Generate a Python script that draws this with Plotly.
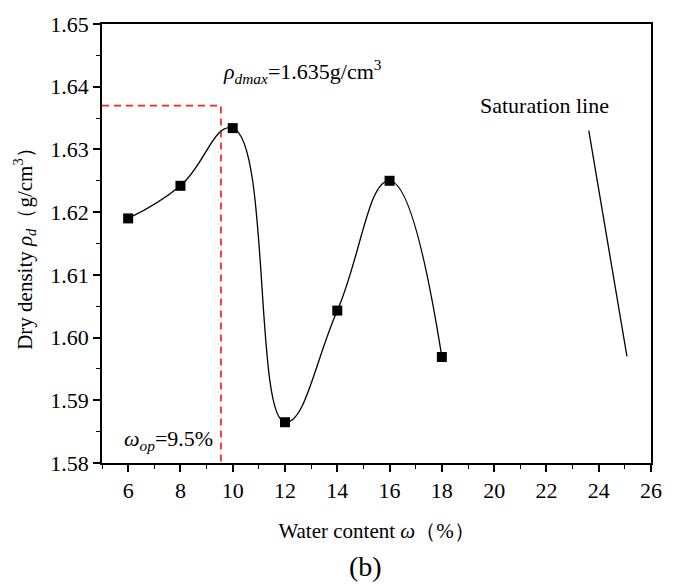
import plotly.graph_objects as go

# Data
water_content = [6, 8, 10, 12, 14, 16, 18]
dry_density = [1.6190, 1.6242, 1.6334, 1.5865, 1.6043, 1.6250, 1.5969]

sat_x = [23.62, 25.08]
sat_y = [1.6330, 1.5970]

peak_x = 9.55
peak_y = 1.637

x_ticks = [6, 8, 10, 12, 14, 16, 18, 20, 22, 24, 26]
y_ticks = [1.58, 1.59, 1.60, 1.61, 1.62, 1.63, 1.64, 1.65]

FONT = "Liberation Serif, Times New Roman, serif"

fig = go.Figure()

# Red dashed reference lines
fig.add_trace(go.Scatter(
    x=[5, peak_x, peak_x], y=[peak_y, peak_y, 1.58],
    mode="lines", line=dict(color="#ff2020", width=1.7, dash="7px,5px"),
    hoverinfo="skip", showlegend=False, cliponaxis=False))

# Fitted curve (smooth)
fig.add_trace(go.Scatter(
    x=water_content, y=dry_density, mode="lines",
    line=dict(color="black", width=1.3, shape="spline", smoothing=1.3),
    showlegend=False))

# Data points
fig.add_trace(go.Scatter(
    x=water_content, y=dry_density, mode="markers",
    marker=dict(symbol="square", size=10, color="black"),
    showlegend=False))

# Saturation line
fig.add_trace(go.Scatter(
    x=sat_x, y=sat_y, mode="lines",
    line=dict(color="black", width=1.3), showlegend=False))

axis_common = dict(
    showline=True, linecolor="black", linewidth=1.5, mirror=True,
    ticks="outside", ticklen=7, tickwidth=1.5, tickcolor="black",
    showgrid=False, zeroline=False,
    tickfont=dict(family=FONT, size=22, color="black"),
)

fig.update_xaxes(
    range=[5, 26], tickvals=x_ticks,
    minor=dict(dtick=1, tick0=5, ticks="outside", ticklen=4, tickwidth=1.2, tickcolor="black"),
    title=dict(text="Water content <i>ω</i>（%）", font=dict(family=FONT, size=21, color="black"), standoff=21),
    **axis_common)
fig.update_yaxes(
    range=[1.58, 1.65], tickvals=y_ticks, tickformat=".2f",
    minor=dict(dtick=0.005, tick0=1.58, ticks="outside", ticklen=4, tickwidth=1.2, tickcolor="black"),
    title=dict(text="Dry density <i>ρ</i><sub><i>d</i></sub>（g/cm<sup>3</sup>）", font=dict(family=FONT, size=21, color="black"), standoff=12),
    **axis_common)

fig.add_annotation(x=peak_x + 0.02, y=1.6424, xref="x", yref="y",
                   text="<i>ρ</i><sub><i>dmax</i></sub>=1.635g/cm<sup>3</sup>",
                   showarrow=False, xanchor="left", yanchor="middle",
                   font=dict(family=FONT, size=22, color="black"))
fig.add_annotation(x=21.94, y=1.6370, xref="x", yref="y",
                   text="Saturation line", showarrow=False,
                   xanchor="center", yanchor="middle",
                   font=dict(family=FONT, size=22, color="black"))
fig.add_annotation(x=9.32, y=1.5836, xref="x", yref="y",
                   text="<i>ω</i><sub><i>op</i></sub>=9.5%", showarrow=False,
                   xanchor="right", yanchor="middle",
                   font=dict(family=FONT, size=22, color="black"))
fig.add_annotation(x=0.48, y=-0.235, xref="paper", yref="paper",
                   text="(b)", showarrow=False, xanchor="center", yanchor="middle",
                   font=dict(family=FONT, size=28, color="black"))

fig.update_layout(
    width=674, height=585,
    margin=dict(l=102, r=23, t=19, b=122),
    paper_bgcolor="white", plot_bgcolor="white",
    font=dict(family=FONT, color="black"),
)

fig.write_html("out.html")
